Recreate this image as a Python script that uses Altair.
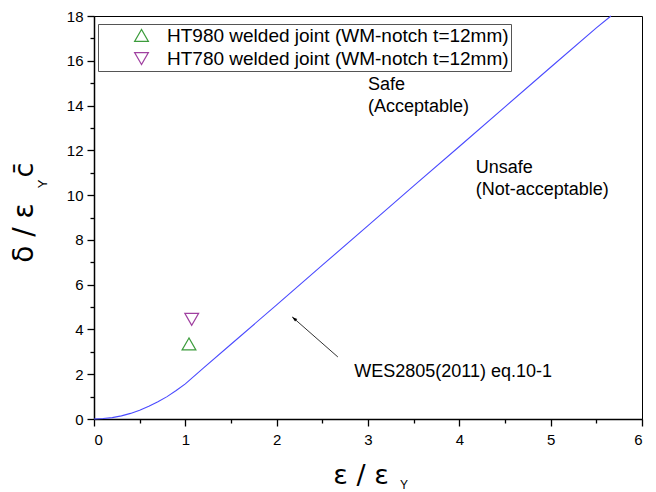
import altair as alt
import pandas as pd

# WES2805 curve
curve_x = [0.0, 0.1, 0.2, 0.3, 0.4, 0.5, 0.6, 0.7, 0.8, 0.9, 1.0, 1.2, 1.5, 2.0, 2.5, 3.0, 3.5, 4.0, 4.5, 5.0, 5.5, 5.66]
curve_y = [0.0, 0.02, 0.06, 0.14, 0.25, 0.39, 0.57, 0.77, 1.0, 1.27, 1.57, 2.28, 3.34, 5.1, 6.87, 8.64, 10.41, 12.17, 13.94, 15.71, 17.47, 18.0]

# Experimental points
series = ["HT980 welded joint (WM-notch t=12mm)", "HT780 welded joint (WM-notch t=12mm)"]
pt_x = [1.04, 1.07]
pt_y = [3.35, 4.45]
pt_shapes = ["triangle-up", "triangle-down"]
pt_colors = ["#3c9c3c", "#a040a0"]

x_major = [0, 1, 2, 3, 4, 5, 6]
x_minor = [0.5, 1.5, 2.5, 3.5, 4.5, 5.5]
y_major = [0, 2, 4, 6, 8, 10, 12, 14, 16, 18]
y_minor = [1, 3, 5, 7, 9, 11, 13, 15, 17]

notes_text = ["Safe", "(Acceptable)", "Unsafe", "(Not-acceptable)", "WES2805(2011) eq.10-1"]
notes_x = [3.0, 3.0, 4.18, 4.18, 2.85]
notes_y = [14.9, 13.93, 11.2, 10.23, 2.1]

arrow_x = [2.67, 2.17]
arrow_y = [2.77, 4.56]

W, H = 548, 403
FONT = "Liberation Sans"

curve_df = pd.DataFrame({"x": curve_x, "y": curve_y})
pts_df = pd.DataFrame({"x": pt_x, "y": pt_y, "series": series})
notes_df = pd.DataFrame({"x": notes_x, "y": notes_y, "t": notes_text})
arrow_df = pd.DataFrame({"x": arrow_x, "y": arrow_y, "o": [0, 1]})
tip_df = pd.DataFrame({"x": [arrow_x[1]], "y": [arrow_y[1]]})

xs = alt.Scale(domain=[0, 6], nice=False, zero=False)
ys = alt.Scale(domain=[0, 18], nice=False, zero=False)

x_axis = alt.Axis(values=x_major, title=None, orient="bottom", tickSize=7, labelPadding=6,
                  grid=False, format="d")
y_axis = alt.Axis(values=y_major, title=None, orient="left", tickSize=7, labelPadding=4,
                  grid=False, format="d")

line = alt.Chart(curve_df).mark_line(color="#4a4aff", strokeWidth=1.1).encode(
    x=alt.X("x:Q", scale=xs, axis=x_axis),
    y=alt.Y("y:Q", scale=ys, axis=y_axis),
)

minor = alt.Chart(pd.DataFrame({"mx": [0.0], "my": [0.0]})).mark_point(opacity=0).encode(
    x=alt.X("mx:Q", scale=xs, axis=alt.Axis(values=x_minor, labels=False, domain=False,
                                              tickSize=4, title=None, orient="bottom", grid=False)),
    y=alt.Y("my:Q", scale=ys, axis=alt.Axis(values=y_minor, labels=False, domain=False,
                                              tickSize=4, title=None, orient="left", grid=False)),
)

leg = alt.Legend(title=None, orient="none", legendX=4, legendY=8, direction="vertical")
points = alt.Chart(pts_df).mark_point(filled=False, size=190, strokeWidth=1.2, opacity=1).encode(
    x=alt.X("x:Q", scale=xs),
    y=alt.Y("y:Q", scale=ys),
    shape=alt.Shape("series:N", scale=alt.Scale(domain=series, range=pt_shapes), legend=leg),
    color=alt.Color("series:N", scale=alt.Scale(domain=series, range=pt_colors), legend=leg),
)

notes = alt.Chart(notes_df).mark_text(align="left", baseline="middle", font=FONT,
                                      fontSize=18, color="black").encode(
    x=alt.X("x:Q", scale=xs), y=alt.Y("y:Q", scale=ys), text="t:N")

arrow = alt.Chart(arrow_df).mark_line(color="#333333", strokeWidth=1).encode(
    x=alt.X("x:Q", scale=xs), y=alt.Y("y:Q", scale=ys), order="o:Q")

tip = alt.Chart(tip_df).mark_point(shape="M0,0 L-0.32,1 L0.32,1 Z", filled=True, color="black",
                                   size=110, angle=311, opacity=1).encode(
    x=alt.X("x:Q", scale=xs), y=alt.Y("y:Q", scale=ys))

# axis titles drawn as text so the subscripts can be placed
ytitle_big = alt.Chart(pd.DataFrame({"t": ["δ / ε"]})).mark_text(
    angle=270, align="center", baseline="middle", font="DejaVu Sans", fontSize=28, color="black"
).encode(x=alt.value(-69), y=alt.value(217), text="t:N")
ytitle_sub = alt.Chart(pd.DataFrame({"t": ["Y"]})).mark_text(
    angle=270, align="center", baseline="middle", font=FONT, fontSize=13, color="black"
).encode(x=alt.value(-51), y=alt.value(168), text="t:N")
ytitle_c = alt.Chart(pd.DataFrame({"t": ["c\u0304"]})).mark_text(
    angle=270, align="center", baseline="middle", font="DejaVu Sans", fontSize=27, color="black"
).encode(x=alt.value(-69), y=alt.value(154), text="t:N")

xtitle_big = alt.Chart(pd.DataFrame({"t": ["ε / ε"]})).mark_text(
    align="center", baseline="middle", font="DejaVu Sans", fontSize=27, color="black"
).encode(x=alt.value(267), y=alt.value(H + 57), text="t:N")
xtitle_sub = alt.Chart(pd.DataFrame({"t": ["Y"]})).mark_text(
    align="center", baseline="middle", font=FONT, fontSize=12, color="black"
).encode(x=alt.value(310), y=alt.value(H + 66), text="t:N")

main = alt.layer(
    line, arrow, tip, points, notes,
    ytitle_big, ytitle_sub, ytitle_c, xtitle_big, xtitle_sub,
)

chart = alt.layer(main, minor).resolve_axis(x="independent", y="independent").properties(
    width=W, height=H,
    autosize=alt.AutoSizeParams(type="none"),
    padding={"left": 94, "top": 16, "right": 14, "bottom": 73},
    background="white",
).configure_view(
    stroke="black", strokeWidth=1
).configure_axis(
    domainColor="black", domainWidth=1.5, tickColor="black", tickWidth=1.3,
    labelColor="black", labelFont=FONT, labelFontSize=15,
).configure_legend(
    strokeColor="#555555", fillColor="white", padding=2, cornerRadius=0,
    labelFont=FONT, labelFontSize=19, labelColor="black", symbolSize=190,
    symbolStrokeWidth=1.2, symbolType="triangle-up", rowPadding=3, symbolOffset=32, labelOffset=16,
    labelLimit=500,
)

chart.save("out.html", embed_options={"renderer": "svg", "actions": False})
